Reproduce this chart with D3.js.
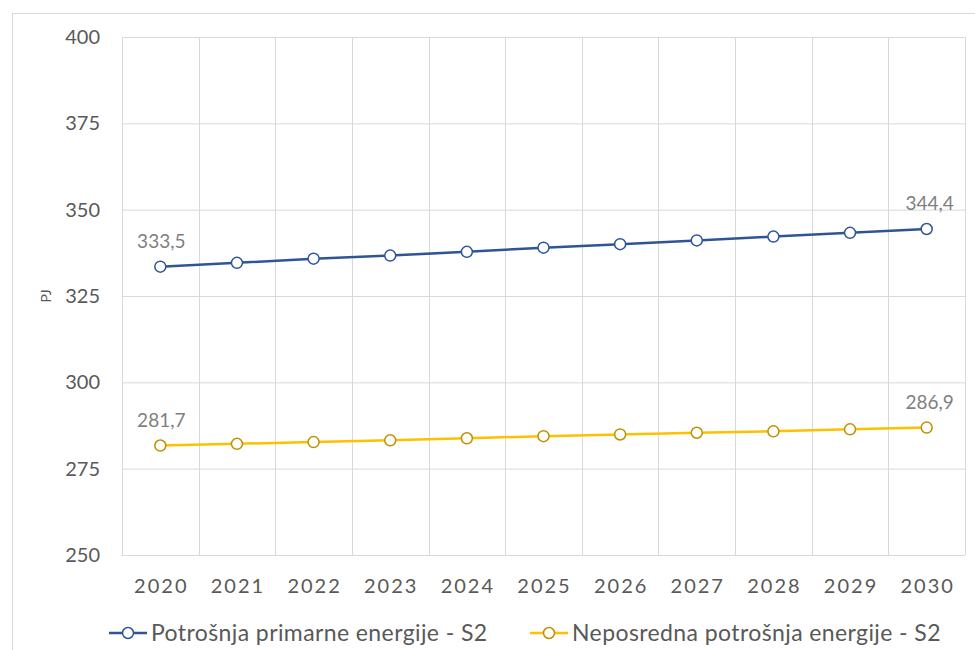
<!DOCTYPE html>
<html>
<head>
<meta charset="utf-8">
<script src="https://cdn.jsdelivr.net/npm/d3@7"></script>
<style>
  body { margin: 0; background: #fff; }
  svg { display: block; font-family: Lato, "Open Sans", sans-serif; }
</style>
</head>
<body>
<script>
// Data
var years = ["2020","2021","2022","2023","2024","2025","2026","2027","2028","2029","2030"];
var primarna = [333.5, 334.6, 335.8, 336.7, 337.8, 339.0, 340.0, 341.1, 342.2, 343.3, 344.4];
var neposredna = [281.7, 282.2, 282.7, 283.2, 283.8, 284.4, 284.9, 285.4, 285.8, 286.4, 286.9];
var yTicks = [250, 275, 300, 325, 350, 375, 400];
var seriesNames = ["Potrošnja primarne energije - S2", "Neposredna potrošnja energije - S2"];

var canvas = {w: 975, h: 650},
    margin = {top: 37, right: 10, bottom: 95, left: 122},
    width = 965 - margin.left,
    height = 555 - margin.top;

var series = [
  {name: seriesNames[0], values: primarna, line: "#2F5597", marker: "#2F5597"},
  {name: seriesNames[1], values: neposredna, line: "#FFC000", marker: "#BF9000"}
];

var svg = d3.select("body").append("svg")
    .attr("width", canvas.w)
    .attr("height", canvas.h);

// outer chart frame
svg.append("rect")
    .attr("x", 12.5).attr("y", 13.5)
    .attr("width", 1000).attr("height", 700)
    .attr("fill", "none")
    .attr("stroke", "#d9d9d9");

var g = svg.append("g")
    .attr("transform", "translate(" + margin.left + "," + margin.top + ")");

var x = d3.scaleBand().domain(years).range([0, width]);
var y = d3.scaleLinear().domain([250, 400]).range([height, 0]);

// horizontal gridlines
g.append("g")
    .call(d3.axisLeft(y).tickValues(yTicks).tickSize(-width).tickFormat(""))
    .call(function(s) {
      s.select(".domain").remove();
      s.selectAll("line").attr("stroke", "#d9d9d9");
    });

// vertical gridlines at category boundaries
g.append("g")
    .selectAll("line")
    .data(d3.range(years.length + 1))
    .enter().append("line")
    .attr("x1", function(i) { return Math.round(i * x.step()) + 0.5; })
    .attr("x2", function(i) { return Math.round(i * x.step()) + 0.5; })
    .attr("y1", 0).attr("y2", height)
    .attr("stroke", "#d9d9d9");

// y tick labels
g.append("g")
    .call(d3.axisLeft(y).tickValues(yTicks).tickSize(0).tickPadding(22))
    .call(function(s) {
      s.select(".domain").remove();
      s.selectAll("text")
        .attr("fill", "#595959")
        .style("font-size", "20px")
        .style("font-family", "Lato, 'Open Sans', sans-serif");
    });

// x tick labels
g.append("g")
    .attr("transform", "translate(0," + height + ")")
    .call(d3.axisBottom(x).tickSize(0).tickPadding(24))
    .call(function(s) {
      s.select(".domain").remove();
      s.selectAll("text")
        .attr("fill", "#595959")
        .attr("dx", "1px")
        .style("font-size", "20px")
        .style("letter-spacing", "2px")
        .style("font-family", "Lato, 'Open Sans', sans-serif");
    });

// y axis title
svg.append("text")
    .attr("transform", "translate(51,296) rotate(-90)")
    .attr("text-anchor", "middle")
    .attr("fill", "#595959")
    .style("font-size", "14px")
    .text("PJ");

var line = d3.line()
    .x(function(d, i) { return x(years[i]) + x.bandwidth() / 2; })
    .y(function(d) { return y(d); });

var sg = g.selectAll(".series")
    .data(series)
    .enter().append("g")
    .attr("class", "series");

sg.append("path")
    .attr("d", function(d) { return line(d.values); })
    .attr("fill", "none")
    .attr("stroke", function(d) { return d.line; })
    .attr("stroke-width", 2.5);

sg.selectAll("circle")
    .data(function(d) { return d.values.map(function(v, i) { return {v: v, i: i, s: d}; }); })
    .enter().append("circle")
    .attr("cx", function(d) { return x(years[d.i]) + x.bandwidth() / 2; })
    .attr("cy", function(d) { return y(d.v); })
    .attr("r", 5.5)
    .attr("fill", "#fff")
    .attr("stroke", function(d) { return d.s.marker; })
    .attr("stroke-width", 1.5);

// data labels on first and last point
sg.selectAll(".lbl")
    .data(function(d) {
      var n = d.values.length - 1;
      return [{v: d.values[0], i: 0}, {v: d.values[n], i: n}];
    })
    .enter().append("text")
    .attr("class", "lbl")
    .attr("x", function(d) { return x(years[d.i]) + x.bandwidth() / 2 + (d.i === 0 ? 1 : 3); })
    .attr("y", function(d) { return y(d.v) - 19; })
    .attr("text-anchor", "middle")
    .attr("fill", "#7f7f7f")
    .style("font-size", "19px")
    .text(function(d) { return d3.format(".1f")(d.v).replace(".", ","); });

// legend
var legendX = [109, 530];
var lg = svg.selectAll(".legend")
    .data(series)
    .enter().append("g")
    .attr("class", "legend")
    .attr("transform", function(d, i) { return "translate(" + legendX[i] + ",633)"; });

lg.append("line")
    .attr("x1", 0).attr("x2", 38)
    .attr("stroke", function(d) { return d.line; })
    .attr("stroke-width", 2.5);

lg.append("circle")
    .attr("cx", 19).attr("r", 5.5)
    .attr("fill", "#fff")
    .attr("stroke", function(d) { return d.marker; })
    .attr("stroke-width", 1.5);

lg.append("text")
    .attr("x", 42)
    .attr("dy", "0.35em")
    .attr("fill", "#595959")
    .style("font-size", "23px")
    .style("letter-spacing", "0.4px")
    .text(function(d) { return d.name; });
</script>
</body>
</html>
